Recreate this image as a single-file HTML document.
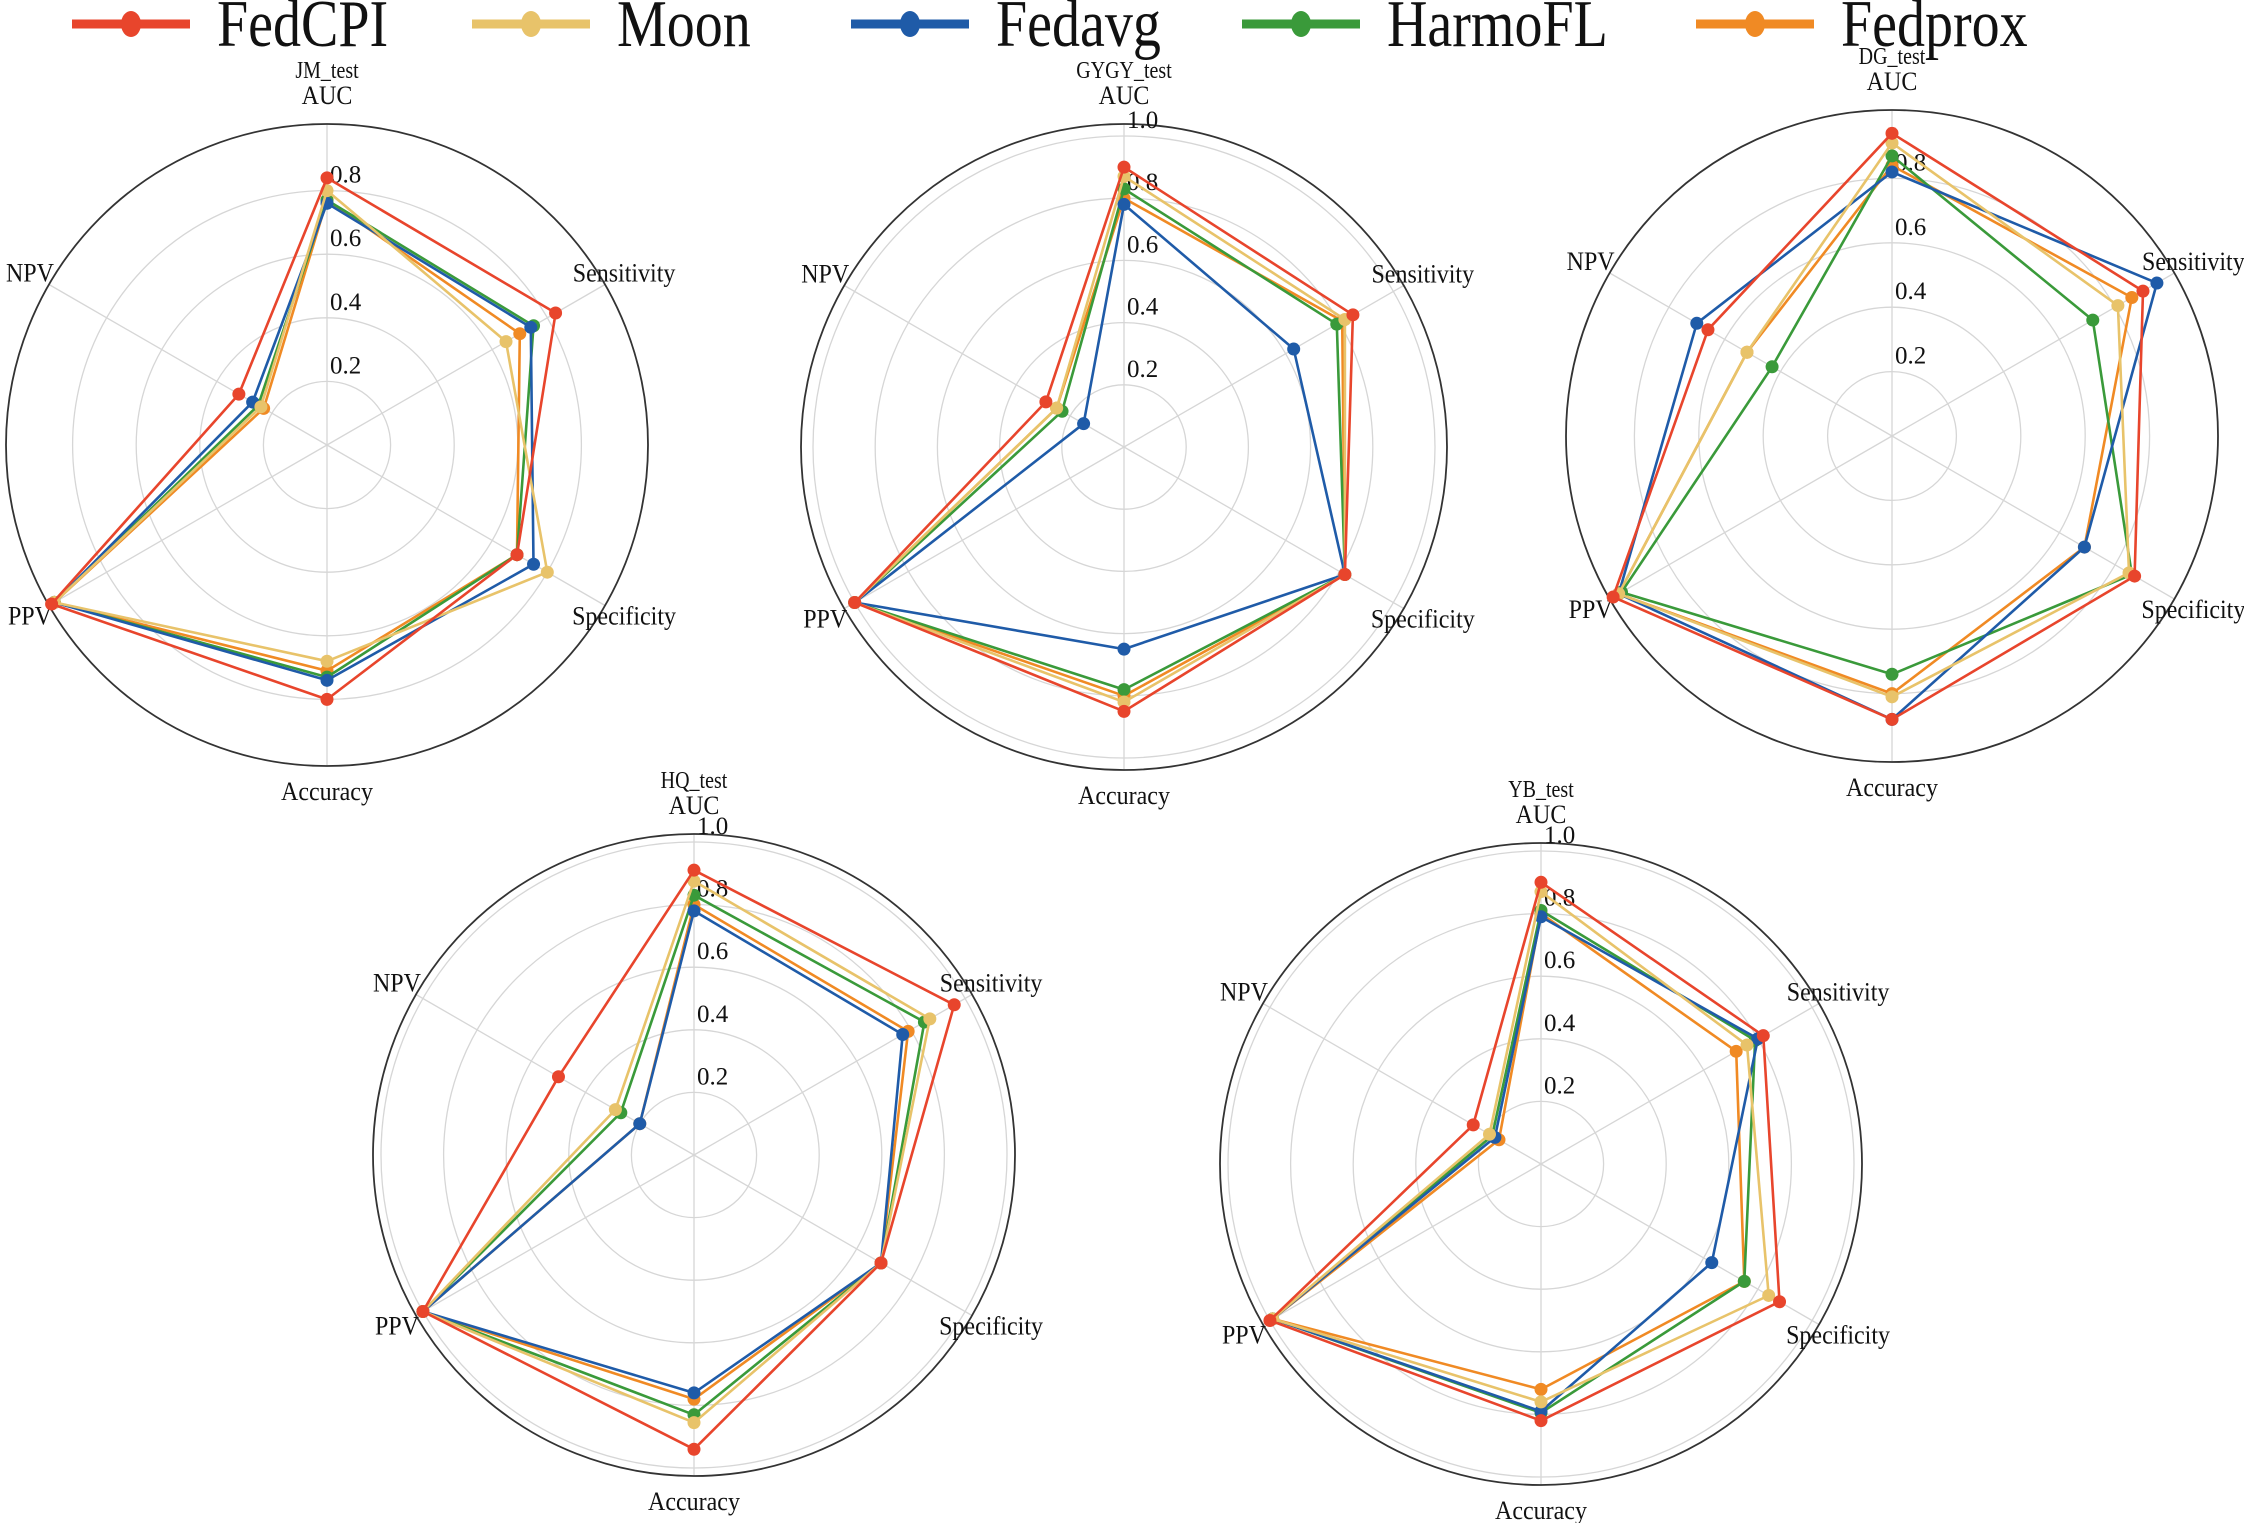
<!DOCTYPE html>
<html><head><meta charset="utf-8"><title>Radar charts</title>
<style>
html,body{margin:0;padding:0;background:#fff;}
svg{display:block;}
text{font-family:"Liberation Serif",serif;fill:#111;}
</style></head>
<body>
<svg id="fig" width="2244" height="1523" viewBox="0 0 2244 1523" xmlns="http://www.w3.org/2000/svg">
<g id="legend"></g>
<g id="charts"></g>
</svg>
<script>
const axesLabels = ["AUC","Sensitivity","Specificity","Accuracy","PPV","NPV"];
const methods = ["FedCPI","Moon","Fedavg","HarmoFL","Fedprox"];
const colors = ["#e8452c","#e8c36a","#1f5ba8","#3a9a3a","#f08a24"];

const jmFedCPI  = [0.84,0.83,0.69,0.80,1.00,0.32];
const jmMoon    = [0.80,0.65,0.80,0.68,0.99,0.24];
const jmFedavg  = [0.76,0.74,0.75,0.74,0.99,0.27];
const jmHarmoFL = [0.77,0.75,0.69,0.73,0.99,0.25];
const jmFedprox = [0.77,0.70,0.69,0.71,0.99,0.23];

const gyFedCPI  = [0.90,0.85,0.82,0.85,1.00,0.29];
const gyMoon    = [0.87,0.82,0.82,0.82,1.00,0.25];
const gyFedavg  = [0.78,0.63,0.82,0.65,1.00,0.15];
const gyHarmoFL = [0.83,0.79,0.82,0.78,1.00,0.23];
const gyFedprox = [0.80,0.81,0.82,0.80,1.00,0.25];

const dgFedCPI  = [0.94,0.90,0.87,0.88,1.00,0.66];
const dgMoon    = [0.91,0.81,0.85,0.81,0.98,0.52];
const dgFedavg  = [0.82,0.95,0.69,0.88,0.98,0.70];
const dgHarmoFL = [0.87,0.72,0.86,0.74,0.97,0.43];
const dgFedprox = [0.84,0.86,0.69,0.80,0.98,0.52];

const hqFedCPI  = [0.91,0.96,0.69,0.94,1.00,0.50];
const hqMoon    = [0.875,0.87,0.69,0.855,1.00,0.29];
const hqFedavg  = [0.78,0.77,0.69,0.76,1.00,0.20];
const hqHarmoFL = [0.83,0.85,0.69,0.83,1.00,0.27];
const hqFedprox = [0.80,0.79,0.69,0.78,1.00,0.20];

const ybFedCPI  = [0.90,0.82,0.88,0.82,1.00,0.25];
const ybMoon    = [0.87,0.76,0.84,0.76,0.99,0.19];
const ybFedavg  = [0.79,0.80,0.63,0.79,0.99,0.17];
const ybHarmoFL = [0.81,0.79,0.75,0.795,0.99,0.18];
const ybFedprox = [0.80,0.72,0.75,0.72,0.99,0.155];

const ticksShort = ["0.2","0.4","0.6","0.8"];
const ticksLong = ["0.2","0.4","0.6","0.8","1.0"];

const charts = [
  {title:"JM_test", key:"jm", cx:327, cy:445, R:321, U:318, ticks:ticksShort, series:[jmFedCPI,jmMoon,jmFedavg,jmHarmoFL,jmFedprox]},
  {title:"GYGY_test", key:"gygy", cx:1124, cy:447, R:323, U:311, ticks:ticksLong, series:[gyFedCPI,gyMoon,gyFedavg,gyHarmoFL,gyFedprox]},
  {title:"DG_test", key:"dg", cx:1892, cy:436, R:326, U:322, ticks:ticksShort, series:[dgFedCPI,dgMoon,dgFedavg,dgHarmoFL,dgFedprox]},
  {title:"HQ_test", key:"hq", cx:694, cy:1155, R:321, U:313, ticks:ticksLong, series:[hqFedCPI,hqMoon,hqFedavg,hqHarmoFL,hqFedprox]},
  {title:"YB_test", key:"yb", cx:1541, cy:1164, R:321, U:313, ticks:ticksLong, series:[ybFedCPI,ybMoon,ybFedavg,ybHarmoFL,ybFedprox]}
];

const NS = "http://www.w3.org/2000/svg";
function mk(tag, attrs, parent){
  const e = document.createElementNS(NS, tag);
  for (const k in attrs) e.setAttribute(k, attrs[k]);
  parent.appendChild(e);
  return e;
}
function angle(i){ return (90 - 60*i) * Math.PI/180; }
function px(c, i, v){ return c.cx + c.U*v*Math.cos(angle(i)); }
function py(c, i, v){ return c.cy - c.U*v*Math.sin(angle(i)); }

// legend
const legend = document.getElementById('legend');
const legX = [72, 472, 851, 1242, 1696];
methods.forEach((m, k) => {
  const g = mk('g', {}, legend);
  
  
  mk('line', {x1:legX[k], y1:24, x2:legX[k]+118, y2:24, stroke:colors[k], 'stroke-width':9}, g);
  mk('ellipse', {cx:legX[k]+59, cy:24, rx:10, ry:13, fill:colors[k]}, g);
  const t = mk('text', {x:0, y:0, 'font-size':56, transform:`translate(${legX[k]+145},46) scale(1,1.2)`}, g);
  t.textContent = m;
});

const root = document.getElementById('charts');
charts.forEach(c => {
  const g = mk('g', {}, root);
  
  
  c.ticks.forEach(t => {
    const v = parseFloat(t);
    const circ = mk('circle', {cx:c.cx, cy:c.cy, r:c.U*v, fill:'none', stroke:'#d6d6d6', 'stroke-width':1.3}, g);
    
    
  });
  axesLabels.forEach((a, i) => {
    const ln = mk('line', {x1:c.cx, y1:c.cy, x2:c.cx + c.R*Math.cos(angle(i)), y2:c.cy - c.R*Math.sin(angle(i)), stroke:'#d6d6d6', 'stroke-width':1.3}, g);
    
    
  });
  const outer = mk('circle', {cx:c.cx, cy:c.cy, r:c.R, fill:'none', stroke:'#333', 'stroke-width':1.8}, g);
  
  
  c.ticks.forEach(t => {
    const v = parseFloat(t);
    const tx = mk('text', {x:c.cx+3, y:c.cy - c.U*v - 8, 'font-size':25}, g);
    tx.textContent = t;
    
    
  });
  axesLabels.forEach((a, i) => {
    let x, y;
    if (i === 0) { x = c.cx; y = c.cy - c.R - 20; }
    else if (i === 3) { x = c.cx; y = c.cy + c.R + 34; }
    else {
      const d = c.R + 22;
      x = c.cx + d*Math.cos(angle(i));
      y = c.cy - d*Math.sin(angle(i)) + 8;
    }
    const t = mk('text', {x:0, y:0, 'font-size':24, 'text-anchor':'middle', transform:`translate(${x},${y}) scale(1,1.12)`}, g);
    t.textContent = a;
    
    
  });
  const tt = mk('text', {x:0, y:0, 'font-size':20, 'text-anchor':'middle', transform:`translate(${c.cx},${c.cy - c.R - 46}) scale(1,1.2)`}, g);
  tt.textContent = c.title;
  
  
  for (let k = methods.length - 1; k >= 0; k--) {
    const vals = c.series[k];
    const sg = mk('g', {}, g);
    
    
    const pts = vals.map((v, i) => px(c, i, v).toFixed(1) + ',' + py(c, i, v).toFixed(1)).join(' ');
    mk('polygon', {points:pts, fill:'none', stroke:colors[k], 'stroke-width':2.6, 'stroke-linejoin':'round'}, sg);
    vals.forEach((v, i) => {
      const p = mk('circle', {cx:px(c, i, v), cy:py(c, i, v), r:6.5, fill:colors[k]}, sg);
      
      
    });
  }
});
</script>
</body></html>
